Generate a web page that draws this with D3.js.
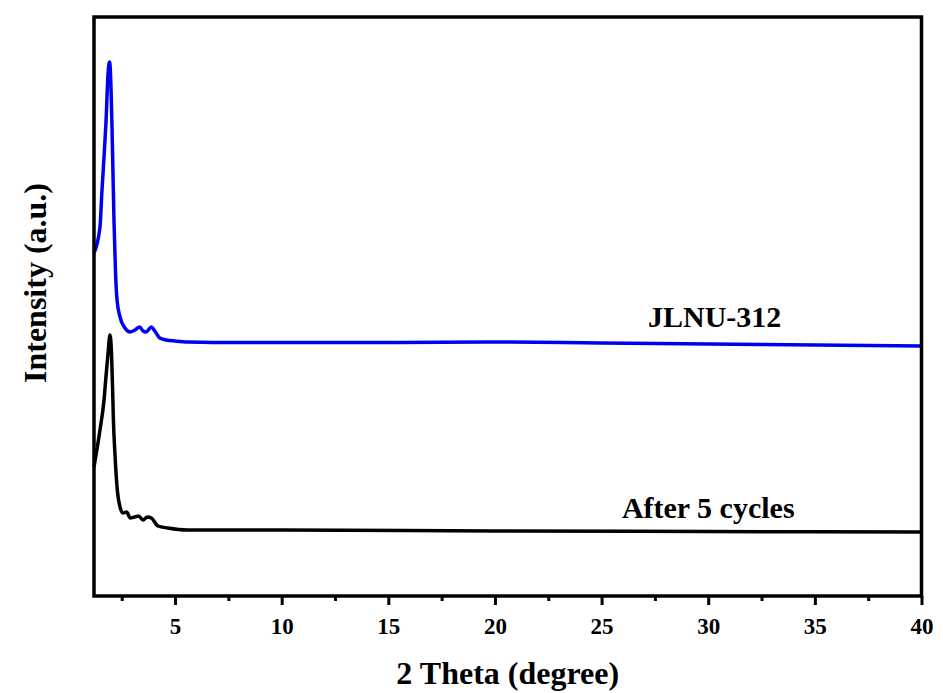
<!DOCTYPE html>
<html>
<head>
<meta charset="utf-8">
<script src="https://cdn.jsdelivr.net/npm/d3@7"></script>
<style>
  body { margin: 0; background: #fff; }
  svg { display: block; }
  text { font-family: 'Liberation Serif', 'Times New Roman', serif; font-weight: bold; fill: #000; }
</style>
</head>
<body>
<svg id="chart" width="943" height="693"></svg>
<script>
// values (2 theta in degree, intensity in arbitrary units)
const blueTheta = [1.2, 1.48, 1.575, 1.67, 1.76, 1.86, 1.93, 2.0, 2.04, 2.09, 2.14, 2.21, 2.28, 2.42, 2.65,
  2.89, 3.12, 3.34, 3.5, 3.64, 3.89, 4.05, 4.28, 4.6, 5.0, 5.6, 8, 12, 15, 20, 25, 30, 35, 40];
const blueIntensity = [343, 369, 406, 439, 473, 523, 534, 506, 473, 423, 373, 323, 296, 279, 268,
  264, 266, 269, 265, 264, 269, 265, 258, 256, 255, 254, 253.5, 253.5, 253.5, 254, 253, 252, 251, 250];

const blackTheta = [1.2, 1.48, 1.67, 1.76, 1.86, 1.95, 2.02, 2.07, 2.11, 2.18, 2.28, 2.42, 2.56, 2.73,
  2.9, 3.1, 3.29, 3.5, 3.7, 3.89, 4.2, 4.66, 5.6, 10, 20, 30, 40];
const blackIntensity = [129, 166, 196, 219, 243, 261, 243, 209, 176, 143, 109, 89, 83, 84,
  78, 79, 80, 76, 79, 78, 70, 68, 66, 66, 65, 64.5, 64];

const seriesNames = ['JLNU-312', 'After 5 cycles'];
const seriesColors = ['#0000f0', '#000000'];
const labelPos = [[30.3, 269], [30.0, 78]];

const majorTicks = [5, 10, 15, 20, 25, 30, 35, 40];
const minorTicks = [2.5, 7.5, 12.5, 17.5, 22.5, 27.5, 32.5, 37.5];

const margin = {top: 17, right: 21.5, bottom: 97, left: 94};
const width = 943 - margin.left - margin.right;
const height = 693 - margin.top - margin.bottom;

const svg = d3.select('#chart');
const g = svg.append('g')
  .attr('transform', `translate(${margin.left}, ${margin.top})`);

const x = d3.scaleLinear().domain([1.2, 40]).range([0, width]);
const y = d3.scaleLinear().domain([0, height]).range([height, 0]);

const line = d3.line()
  .x(d => x(d[0]))
  .y(d => y(d[1]))
  .curve(d3.curveMonotoneX);

const series = [
  d3.zip(blueTheta, blueIntensity),
  d3.zip(blackTheta, blackIntensity)
];

series.forEach((data, i) => {
  g.append('path')
    .datum(data)
    .attr('d', line)
    .attr('fill', 'none')
    .attr('stroke', seriesColors[i])
    .attr('stroke-width', 3.5)
    .attr('stroke-linejoin', 'round');

  g.append('text')
    .attr('x', x(labelPos[i][0]))
    .attr('y', y(labelPos[i][1]))
    .attr('text-anchor', 'middle')
    .style('font-size', '30px')
    .text(seriesNames[i]);
});

// frame
g.append('rect')
  .attr('width', width)
  .attr('height', height)
  .attr('fill', 'none')
  .attr('stroke', '#000')
  .attr('stroke-width', 3.5);

const xAxis = d3.axisBottom(x)
  .tickValues(majorTicks)
  .tickSize(9)
  .tickPadding(13)
  .tickFormat(d3.format('d'));

const axisG = g.append('g')
  .attr('transform', `translate(0, ${height})`)
  .call(xAxis);
axisG.select('.domain').remove();
axisG.selectAll('.tick line').attr('stroke-width', 3);
axisG.selectAll('.tick text')
  .style('font-size', '23px')
  .style('font-family', "'Liberation Serif', 'Times New Roman', serif")
  .attr('dy', '0.71em');

const minorAxis = d3.axisBottom(x)
  .tickValues(minorTicks)
  .tickSize(5)
  .tickFormat('');
const minorG = g.append('g')
  .attr('transform', `translate(0, ${height})`)
  .call(minorAxis);
minorG.select('.domain').remove();
minorG.selectAll('.tick line').attr('stroke-width', 3);

svg.append('text')
  .attr('x', margin.left + width / 2)
  .attr('y', 684)
  .attr('text-anchor', 'middle')
  .style('font-size', '32px')
  .text('2 Theta (degree)');

svg.append('text')
  .attr('transform', 'translate(46, 283) rotate(-90)')
  .attr('text-anchor', 'middle')
  .style('font-size', '32px')
  .text('Intensity (a.u.)');
</script>
</body>
</html>
